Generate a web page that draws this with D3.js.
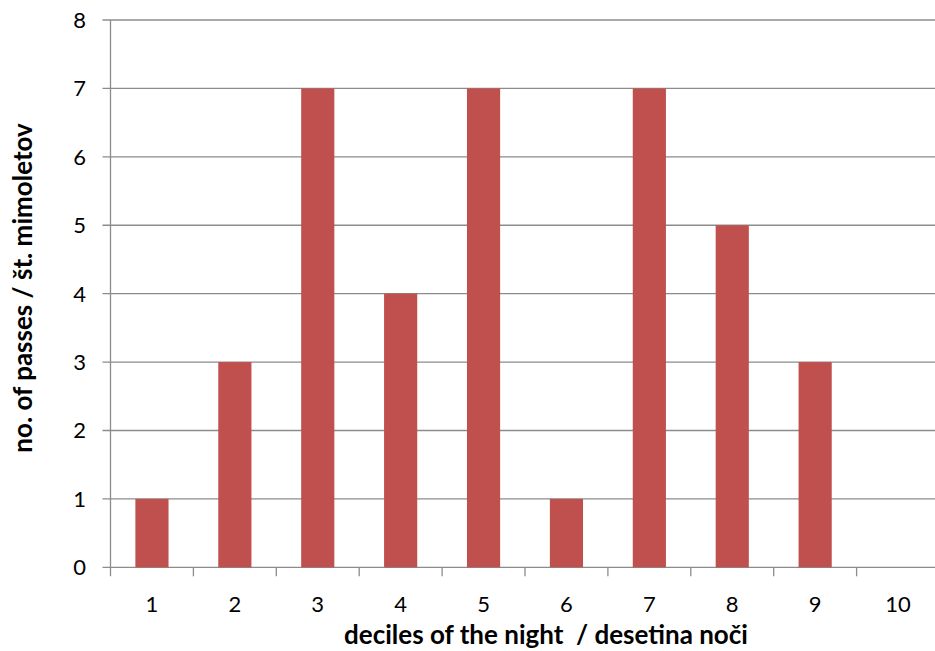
<!DOCTYPE html>
<html><head><meta charset="utf-8">
<script src="https://cdn.jsdelivr.net/npm/d3@7"></script>
<style>body{margin:0;background:#fff}svg{display:block}text{font-family:Lato,"Open Sans",sans-serif;fill:#000}</style>
</head><body><svg id="c" width="935" height="651"></svg>
<script>
const categories = ["1","2","3","4","5","6","7","8","9","10"];
const values = [1,3,7,4,7,1,7,5,3,0];
const yTicks = [0,1,2,3,4,5,6,7,8];
const xTitle = "deciles of the night  / desetina noči";
const yTitle = "no. of passes / št. mimoletov";

(function(){
const svg = d3.select("#c");
const mLeft = 110.5, mTop = 20, mBottom = 567.3, catW = 82.9;
const mRight = mLeft + catW * categories.length;
const x = d3.scaleBand().domain(categories).range([mLeft, mRight]).paddingInner(0.6).paddingOuter(0.3);
const xb = d3.scaleBand().domain(categories).range([mLeft, mRight]);
const y = d3.scaleLinear().domain([0, 8]).range([mBottom, mTop]);
const grid = "#8c8c8c";

svg.append("g").selectAll("line").data(yTicks).join("line")
  .attr("x1", mLeft - 8).attr("x2", mRight)
  .attr("y1", d => y(d)).attr("y2", d => y(d))
  .attr("stroke", grid).attr("stroke-width", 1.3);

svg.append("g").selectAll("rect").data(values).join("rect")
  .attr("x", (d, i) => x(categories[i]))
  .attr("width", x.bandwidth())
  .attr("y", d => y(d))
  .attr("height", d => y(0) - y(d))
  .attr("fill", "#C0504D");

svg.append("line").attr("x1", mLeft).attr("x2", mLeft).attr("y1", mTop).attr("y2", mBottom + 9)
  .attr("stroke", grid).attr("stroke-width", 1.3);
svg.append("g").selectAll("line").data(categories.slice(1)).join("line")
  .attr("x1", d => xb(d)).attr("x2", d => xb(d))
  .attr("y1", mBottom).attr("y2", mBottom + 9)
  .attr("stroke", grid).attr("stroke-width", 1.3);

svg.append("g").selectAll("text").data(yTicks).join("text")
  .attr("x", 86).attr("y", d => y(d)).attr("dy", "0.36em")
  .attr("text-anchor", "end").attr("font-size", 22).text(d => d);
svg.append("g").selectAll("text").data(categories).join("text")
  .attr("x", d => xb(d) + xb.bandwidth() / 2).attr("y", 604).attr("dy", "0.36em")
  .attr("text-anchor", "middle").attr("font-size", 22).text(d => d);

svg.append("text").attr("x", 546).attr("y", 644).attr("text-anchor", "middle")
  .attr("font-size", 26).attr("font-weight", "bold").style("white-space","pre").text(xTitle);
svg.append("text").attr("transform", "translate(32,288) rotate(-90)").attr("text-anchor", "middle")
  .attr("font-size", 26).attr("font-weight", "bold").text(yTitle);
})();
</script></body></html>
